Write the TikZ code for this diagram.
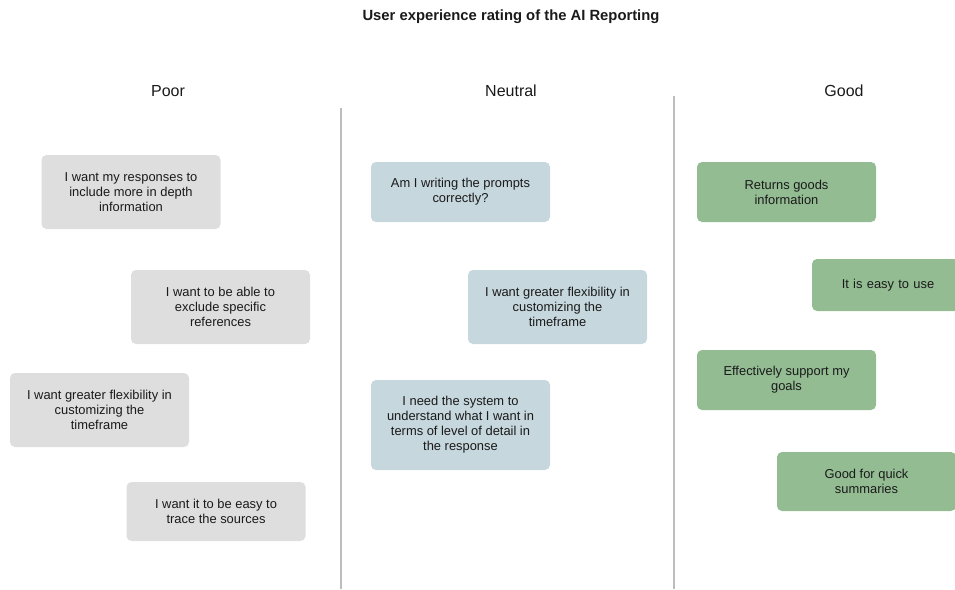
\documentclass[tikz,border=0pt]{standalone}
\usepackage{fontspec}
\setmainfont{Liberation Sans}
\definecolor{poorc}{HTML}{DEDEDE}
\definecolor{neutc}{HTML}{C6D7DD}
\definecolor{goodc}{HTML}{93BC93}
\definecolor{txt}{HTML}{1A1A1A}
\definecolor{divc}{HTML}{BDBDBD}
\tikzset{
  card/.style={rounded corners=5pt, minimum width=179pt, inner sep=0pt, align=center, text=txt, font=\fontsize{12.9}{15}\selectfont},
  poorcard/.style={card, fill=poorc},
  neutcard/.style={card, fill=neutc},
  goodcard/.style={card, fill=goodc},
  header/.style={text=txt, font=\fontsize{16}{18}\selectfont},
  divider/.style={draw=divc, line width=1.3pt}
}
\begin{document}
\begin{tikzpicture}[x=1pt,y=-1pt]
\useasboundingbox (0,0) rectangle (955,589);
\clip (0,0) rectangle (955,589);
\node[text=txt, font=\fontsize{14.8}{17}\selectfont\bfseries] (title) at (511,17) {User experience rating of the AI Reporting};
\node[header] (hpoor) at (168,91) {Poor};
\node[header] (hneut) at (511,91) {Neutral};
\node[header] (hgood) at (844,91) {Good};
\coordinate (d1a) at (341,108); \coordinate (d1b) at (341,589);
\coordinate (d2a) at (674,96); \coordinate (d2b) at (674,589);
\draw[divider] (d1a) -- (d1b);
\draw[divider] (d2a) -- (d2b);
% Poor
\node[poorcard, minimum height=74pt] (p1) at (131,192) {I want my responses to\\include more in depth\\information};
\node[poorcard, minimum height=74pt] (p2) at (220.5,307) {I want to be able to\\exclude specific\\references};
\node[poorcard, minimum height=74pt] (p3) at (99.5,410) {I want greater flexibility in\\customizing the\\timeframe};
\node[poorcard, minimum height=59pt] (p4) at (216,511.5) {I want it to be easy to\\trace the sources};
% Neutral
\node[neutcard, minimum height=60pt] (n1) at (460.5,192) {Am I writing the prompts\\correctly?};
\node[neutcard, minimum height=74pt] (n2) at (557.5,307) {I want greater flexibility in\\customizing the\\timeframe};
\node[neutcard, minimum height=90pt] (n3) at (460.5,425) {I need the system to\\understand what I want in\\terms of level of detail in\\the response};
% Good
\node[goodcard, minimum height=60pt] (g1) at (786.5,192) {Returns goods\\information};
\node[goodcard, minimum height=52pt, text width=179pt] (g2) at (901.5,285) {\hspace*{-27pt}It is easy to use};
\node[goodcard, minimum height=60pt] (g3) at (786.5,380) {Effectively support my\\goals};
\node[goodcard, minimum height=59pt] (g4) at (866.5,481.5) {Good for quick\\summaries};
\end{tikzpicture}
\end{document}
